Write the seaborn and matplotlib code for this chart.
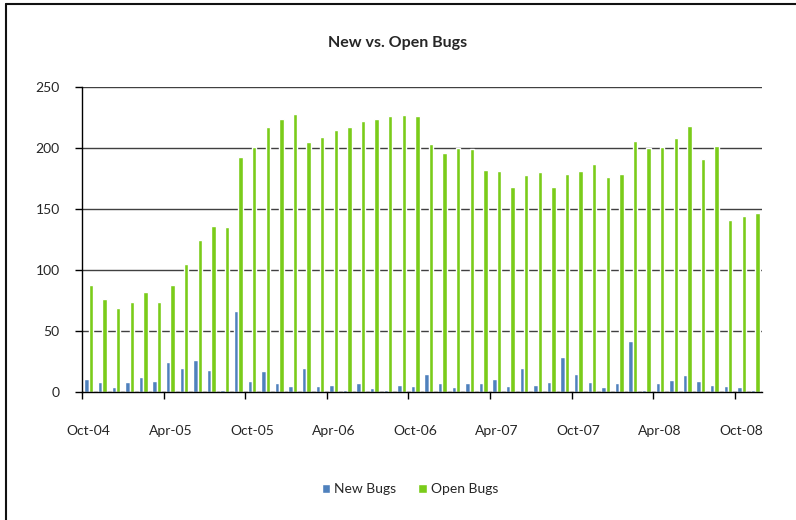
import matplotlib
matplotlib.use("Agg", force=True)
import matplotlib.pyplot as plt
import pandas as pd
import seaborn as sns
from matplotlib.lines import Line2D

# monthly data, Oct-04 .. Nov-08
new_bugs = [11, 8, 4, 8, 12, 9, 25, 20, 26, 18, 2, 66, 9, 17, 7, 5,
            20, 5, 6, 2, 7, 3, 2, 6, 5, 15, 7, 4, 7, 7, 11, 5,
            20, 6, 8, 29, 15, 8, 4, 7, 42, 2, 7, 10, 14, 9, 6, 5, 4, 2]
open_bugs = [88, 76, 69, 74, 82, 74, 88, 105, 125, 136, 135, 193, 201, 217, 224, 228,
             205, 209, 215, 217, 222, 224, 226, 227, 226, 203, 196, 200, 199, 182, 181, 168,
             178, 180, 168, 179, 181, 187, 176, 179, 206, 200, 201, 208, 218, 191, 202, 141, 144, 147]
tick_labels = ["Oct-04", "Apr-05", "Oct-05", "Apr-06", "Oct-06", "Apr-07",
               "Oct-07", "Apr-08", "Oct-08"]
tick_every = 6

months = list(range(len(new_bugs)))
df = pd.DataFrame({
    "month": months * 2,
    "series": ["New Bugs"] * len(new_bugs) + ["Open Bugs"] * len(open_bugs),
    "count": new_bugs + open_bugs,
})

sns.set_style("white")
plt.rcParams["font.family"] = ["Lato", "DejaVu Sans"]

fig = plt.figure(figsize=(7.96, 5.20), dpi=100)
ax = fig.add_axes([82 / 796, 1 - 392 / 520, 680 / 796, 305 / 520])

sns.barplot(data=df, x="month", y="count", hue="series", order=months,
            hue_order=["New Bugs", "Open Bugs"],
            palette={"New Bugs": "#4F81BD", "Open Bugs": "#7ACC1A"},
            width=0.64, saturation=1, ax=ax, legend=True)

ax.set_xlim(-0.5, len(months) - 0.5)
ax.set_ylim(0, 250)
ax.set_yticks(range(0, 251, 50))
ax.yaxis.grid(True, color="#404040", linewidth=1)
ax.set_axisbelow(True)

ax.set_xticks([i * tick_every for i in range(len(tick_labels))])
ax.set_xticklabels(tick_labels)
ax.set_xticks([i * tick_every - 0.5 for i in range(len(tick_labels))], minor=True)
ax.tick_params(axis="x", which="major", length=0, pad=24, labelsize=10)
ax.tick_params(axis="x", which="minor", length=5, width=1, color="black", direction="out", bottom=True)
ax.tick_params(axis="y", length=5, width=1, color="black", direction="out", left=True, pad=11, labelsize=10)
ax.set_xlabel("")
ax.set_ylabel("")

for side in ["top", "right"]:
    ax.spines[side].set_visible(False)
for side in ["left", "bottom"]:
    ax.spines[side].set_color("black")
    ax.spines[side].set_linewidth(1)

handles, labels = ax.get_legend_handles_labels()
ax.get_legend().remove()
fig.legend(handles, labels, loc="center", bbox_to_anchor=(0.515, 1 - 489 / 520), ncol=2,
           frameon=False, fontsize=10, handlelength=0.6, handleheight=0.6,
           handletextpad=0.3, columnspacing=1.6)

fig.text(398 / 796, 1 - 43 / 520, "New vs. Open Bugs", ha="center", va="center",
         fontsize=11.5, fontweight="bold")

# frame edges along top and left, as in the screenshot
fig.lines.append(Line2D([6 / 796, 1], [1 - 4 / 520, 1 - 4 / 520], transform=fig.transFigure,
                        color="#111111", linewidth=1.5))
fig.lines.append(Line2D([6 / 796, 6 / 796], [0, 1 - 4 / 520], transform=fig.transFigure,
                        color="#111111", linewidth=1.5))

fig.savefig("out.png", dpi=100)
